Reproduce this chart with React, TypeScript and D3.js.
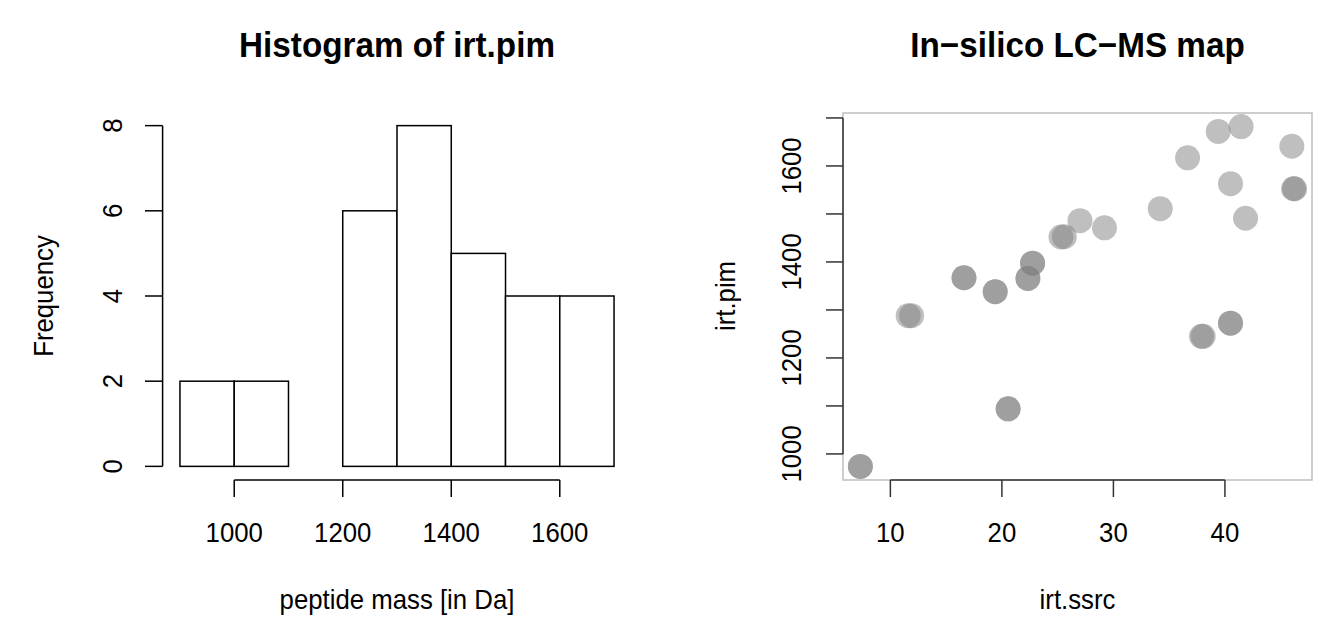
import { useEffect, useRef } from "react";
import * as d3 from "d3";

// histogram of irt.pim (breaks every 100 Da)
const histBreaks = [900, 1000, 1100, 1200, 1300, 1400, 1500, 1600, 1700];
const histCounts = [2, 2, 0, 6, 8, 5, 4, 4];
const histXTicks = [1000, 1200, 1400, 1600];
const histYTicks = [0, 2, 4, 6, 8];

// in-silico LC-MS map (duplicates overlap -> darker dots)
const irtSsrc = [
  7.31, 7.31, 11.6, 11.9, 16.6, 16.6, 19.4, 19.4, 22.33, 22.33, 22.75, 22.75,
  25.3, 25.6, 27.0, 29.2, 34.2, 36.65, 39.4, 41.45, 46.0, 40.5, 46.15, 46.25,
  41.85, 37.9, 38.05, 40.5, 40.5, 20.56, 20.56,
];
const irtPim = [
  974, 974, 1288, 1288, 1367, 1367, 1338, 1338, 1365.6, 1365.6, 1397.5, 1397.5,
  1452, 1452.5, 1486, 1471, 1511, 1617, 1672, 1682, 1641, 1563, 1552.5, 1552.5,
  1491, 1245, 1245, 1272.5, 1272.5, 1094, 1094,
];
const mapXTicks = [10, 20, 30, 40];
const mapYTicks = [1000, 1100, 1200, 1300, 1400, 1500, 1600, 1700];
const mapYLabels = [1000, 1200, 1400, 1600];

const W = 1322;
const H = 630;
const FONT = "'Liberation Sans', Arial, Helvetica, sans-serif";

// R style 4% padding
const pad = (lo: number, hi: number): [number, number] => {
  const d = (hi - lo) * 0.04;
  return [lo - d, hi + d];
};

// R's helvetica here is a bit taller / narrower than Liberation Sans
const squeeze = (sel: d3.Selection<SVGTextElement, unknown, null, undefined>, k: number) => {
  const node = sel.node();
  if (!node) return;
  const len = node.getComputedTextLength();
  sel.attr("textLength", len * k).attr("lengthAdjust", "spacingAndGlyphs");
};

export default function App() {
  const svgRef = useRef<SVGSVGElement | null>(null);

  useEffect(() => {
    if (!svgRef.current) return;
    const svg = d3.select(svgRef.current);
    svg.selectAll("*").remove();

    const label = (g: d3.Selection<SVGGElement, unknown, null, undefined>, txt: string | number, x: number, y: number, rot = false, size = 28, bold = false) => {
      const t = g.append("text")
        .attr("transform", rot ? `translate(${x},${y}) rotate(-90)` : `translate(${x},${y})`)
        .attr("text-anchor", "middle")
        .attr("font-size", size)
        .attr("font-weight", bold ? "bold" : "normal")
        .text(txt) as unknown as d3.Selection<SVGTextElement, unknown, null, undefined>;
      squeeze(t, bold ? 0.95 : 0.92);
      return t;
    };

    // ---------- left: histogram ----------
    const hx = d3.scaleLinear().domain(pad(900, 1700)).range([162.6, 631.4]);
    const hy = d3.scaleLinear().domain(pad(0, 8)).range([480, 112]);
    const g1 = svg.append("g");

    g1.selectAll("rect")
      .data(histCounts)
      .enter()
      .append("rect")
      .attr("x", (_d, i) => hx(histBreaks[i]))
      .attr("y", d => hy(d))
      .attr("width", (_d, i) => hx(histBreaks[i + 1]) - hx(histBreaks[i]))
      .attr("height", d => hy(0) - hy(d))
      .attr("fill", "white")
      .attr("stroke", "black")
      .attr("stroke-width", 1.5);

    // y axis
    g1.append("line")
      .attr("x1", 162.6).attr("x2", 162.6)
      .attr("y1", hy(0)).attr("y2", hy(8))
      .attr("stroke", "black").attr("stroke-width", 1.5);
    histYTicks.forEach(t => {
      g1.append("line")
        .attr("x1", 145).attr("x2", 162.6)
        .attr("y1", hy(t)).attr("y2", hy(t))
        .attr("stroke", "black").attr("stroke-width", 1.5);
      label(g1, t, 122, hy(t), true);
    });

    // x axis
    g1.append("line")
      .attr("x1", hx(1000)).attr("x2", hx(1600))
      .attr("y1", 480).attr("y2", 480)
      .attr("stroke", "black").attr("stroke-width", 1.5);
    histXTicks.forEach(t => {
      g1.append("line")
        .attr("x1", hx(t)).attr("x2", hx(t))
        .attr("y1", 480).attr("y2", 497)
        .attr("stroke", "black").attr("stroke-width", 1.5);
      label(g1, t, hx(t), 541.5);
    });

    label(g1, "Histogram of irt.pim", 397, 57, false, 35, true);
    label(g1, "peptide mass [in Da]", 397, 609);
    label(g1, "Frequency", 53, 296, true);

    // ---------- right: scatter ----------
    const mx = d3.scaleLinear().domain(pad(d3.min(irtSsrc)!, d3.max(irtSsrc)!)).range([843, 1312]);
    const my = d3.scaleLinear().domain(pad(d3.min(irtPim)!, d3.max(irtPim)!)).range([480, 113]);
    const g2 = svg.append("g");

    g2.append("rect")
      .attr("x", 843).attr("y", 113)
      .attr("width", 1312 - 843).attr("height", 480 - 113)
      .attr("fill", "none")
      .attr("stroke", "#bebebe").attr("stroke-width", 1.5);

    g2.selectAll("circle")
      .data(irtSsrc)
      .enter()
      .append("circle")
      .attr("cx", d => mx(d))
      .attr("cy", (_d, i) => my(irtPim[i]))
      .attr("r", 12.5)
      .attr("fill", "#808080")
      .attr("fill-opacity", 0.5);

    // y axis
    g2.append("line")
      .attr("x1", 843).attr("x2", 843)
      .attr("y1", my(1000)).attr("y2", my(1700))
      .attr("stroke", "#333").attr("stroke-width", 1.5);
    mapYTicks.forEach(t => {
      g2.append("line")
        .attr("x1", 826).attr("x2", 843)
        .attr("y1", my(t)).attr("y2", my(t))
        .attr("stroke", "#333").attr("stroke-width", 1.5);
    });
    mapYLabels.forEach(t => label(g2, t, 801, my(t), true));

    // x axis
    g2.append("line")
      .attr("x1", mx(10)).attr("x2", mx(40))
      .attr("y1", 480).attr("y2", 480)
      .attr("stroke", "#333").attr("stroke-width", 1.5);
    mapXTicks.forEach(t => {
      g2.append("line")
        .attr("x1", mx(t)).attr("x2", mx(t))
        .attr("y1", 480).attr("y2", 497)
        .attr("stroke", "#333").attr("stroke-width", 1.5);
      label(g2, t, mx(t), 541.5);
    });

    label(g2, "In\u2212silico LC\u2212MS map", 1077.5, 57, false, 35, true);
    label(g2, "irt.ssrc", 1077.5, 609);
    label(g2, "irt.pim", 735, 296, true);
  }, []);

  return (
    <svg
      ref={svgRef}
      width={W}
      height={H}
      style={{ position: "absolute", left: 0, top: 0, background: "white", fontFamily: FONT }}
    />
  );
}
